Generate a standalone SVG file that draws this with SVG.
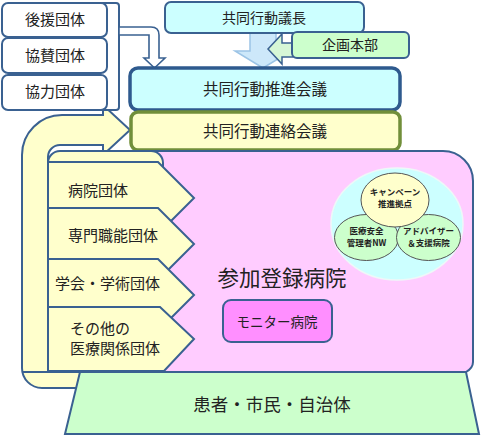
<svg xmlns="http://www.w3.org/2000/svg" width="482" height="437" viewBox="0 0 482 437">
<style>
text{font-family:"Noto Sans CJK JP","Noto Sans",sans-serif;fill:#222;text-anchor:middle}
.b{stroke:#3A6191;stroke-width:2}
.w{fill:#fff}
.y{fill:#FFFFCC}
.c{fill:#CCFFFF}
.g{fill:#CCFFCC}
.t15{font-size:15px}
.sm{font-size:8.5px;font-weight:bold}
.st{text-anchor:start}
</style>
<rect width="482" height="437" fill="#fff"/>
<g id="connectors">
<path class="b y" d="M80,388 L42,388 A20,20 0 0 1 22,368 L22,155 A40,40 0 0 1 62,115 L103,115 L103,105 L130,130 L103,155 L103,145 L60,145 A12,12 0 0 0 48,157 L48,372 L80,372 Z"/>
<line class="b" x1="22" y1="372" x2="48" y2="372"/>
</g>
<g id="supporters">
<rect class="b w" x="100" y="3" width="19" height="107" rx="3"/>
<rect id="kouen" class="b w" x="2" y="3" width="105" height="34" rx="6"/>
<rect id="kyousan" class="b w" x="2" y="38" width="105" height="35" rx="6"/>
<rect id="kyouryoku" class="b w" x="2" y="75" width="105" height="35" rx="6"/>
<text class="t15" x="55" y="25">後援団体</text>
<text class="t15" x="55" y="61">協賛団体</text>
<text class="t15" x="55" y="97">協力団体</text>
</g>
<g id="connectors2">
<path class="w" stroke="#3A6191" stroke-width="1.6" d="M119,27 L151,27 Q159,27 159,35 L159,58 L165,58 L154.5,68 L144,58 L149,58 L149,35 L119,35 Z"/>
<path fill="#CDE8FA" stroke="#9CC4E6" stroke-width="1.5" d="M250,33 L276,33 L276,51 L291,51 L263,68 L235,51 L250,51 Z"/>
<path fill="#D6F7D6" stroke="#3A6191" stroke-width="1.5" d="M293,43 L282,43 L282,34 L268,49 L282,64 L282,57 L293,57 Z"/>
</g>
<g id="chair">
<rect class="b c" x="165" y="2" width="199" height="31" rx="6"/>
<text font-size="14" x="264" y="23">共同行動議長</text>
</g>
<g id="planning">
<rect class="b g" x="292" y="32" width="117" height="26" rx="5"/>
<text font-size="14" x="350" y="50">企画本部</text>
</g>
<g id="suishin">
<rect class="c" stroke="#2E5A8E" stroke-width="3.5" x="130" y="68" width="270" height="42" rx="8"/>
<text font-size="15.5" x="265" y="95">共同行動推進会議</text>
</g>
<g id="renraku">
<rect class="y" stroke="#718F3A" stroke-width="3.5" x="131" y="112" width="269" height="38" rx="7"/>
<text font-size="15.5" x="265" y="137">共同行動連絡会議</text>
</g>
<g id="hospitals">
<path class="b" fill="#FFCCFF" d="M120,151 L443,151 A30,30 0 0 1 473,181 L473,362 Q473,368 466,372 L120,372 Z"/>
<rect class="b y" x="48" y="151" width="115" height="221" rx="12"/>
<text font-size="21.5" x="282" y="286">参加登録病院</text>
</g>
<g id="byouin">
<path class="b y" d="M48,162 L158,162 L194,198 L158,234 L48,234 Z"/>
<text class="t15 st" x="68" y="196">病院団体</text>
</g>
<g id="senmon">
<path class="b y" d="M48,208 L158,208 L194,244 L158,280 L48,280 Z"/>
<text class="t15 st" x="68" y="241">専門職能団体</text>
</g>
<g id="gakkai">
<path class="b y" d="M48,259 L158,259 L194,295 L158,331 L48,331 Z"/>
<text class="t15 st" x="55" y="289">学会・学術団体</text>
</g>
<g id="sonota">
<path class="b y" d="M48,307 L160,307 L194,339 L164,371 L48,371 Z"/>
<text class="t15 st" x="70" y="334">その他の</text>
<text class="t15 st" x="70" y="354">医療関係団体</text>
</g>
<g id="network">
<ellipse cx="397" cy="224" rx="66" ry="56" fill="#CCFFFF" stroke="#EEF8F8" stroke-width="1.5"/>
<g id="anzen">
<ellipse cx="366.5" cy="237.5" rx="32" ry="23" fill="#CCFFCC" stroke="#555" stroke-width="1"/>
<text class="sm" x="366.5" y="233.5">医療安全</text>
<text class="sm" x="366.5" y="246">管理者NW</text>
</g>
<g id="advisor">
<ellipse cx="428.5" cy="237.5" rx="32" ry="23" fill="#CCFFCC" stroke="#555" stroke-width="1"/>
<text class="sm" x="428.5" y="233.5">アドバイザー</text>
<text class="sm" x="428.5" y="246">＆支援病院</text>
</g>
<g id="campaign">
<ellipse cx="395" cy="200" rx="34" ry="27" fill="#FFFFCC" stroke="#555" stroke-width="1"/>
<text class="sm" x="395" y="194.5">キャンペーン</text>
<text class="sm" x="395" y="207">推進拠点</text>
</g>
</g>
<g id="monitor">
<rect class="b" fill="#FF8FFF" x="223" y="300" width="109" height="42" rx="8"/>
<text font-size="13.5" x="277" y="327">モニター病院</text>
</g>
<g id="citizens">
<path class="b g" d="M80,372 L466,372 L479,434 L65,434 Z"/>
<text font-size="17.5" x="272" y="411">患者・市民・自治体</text>
</g>
</svg>
